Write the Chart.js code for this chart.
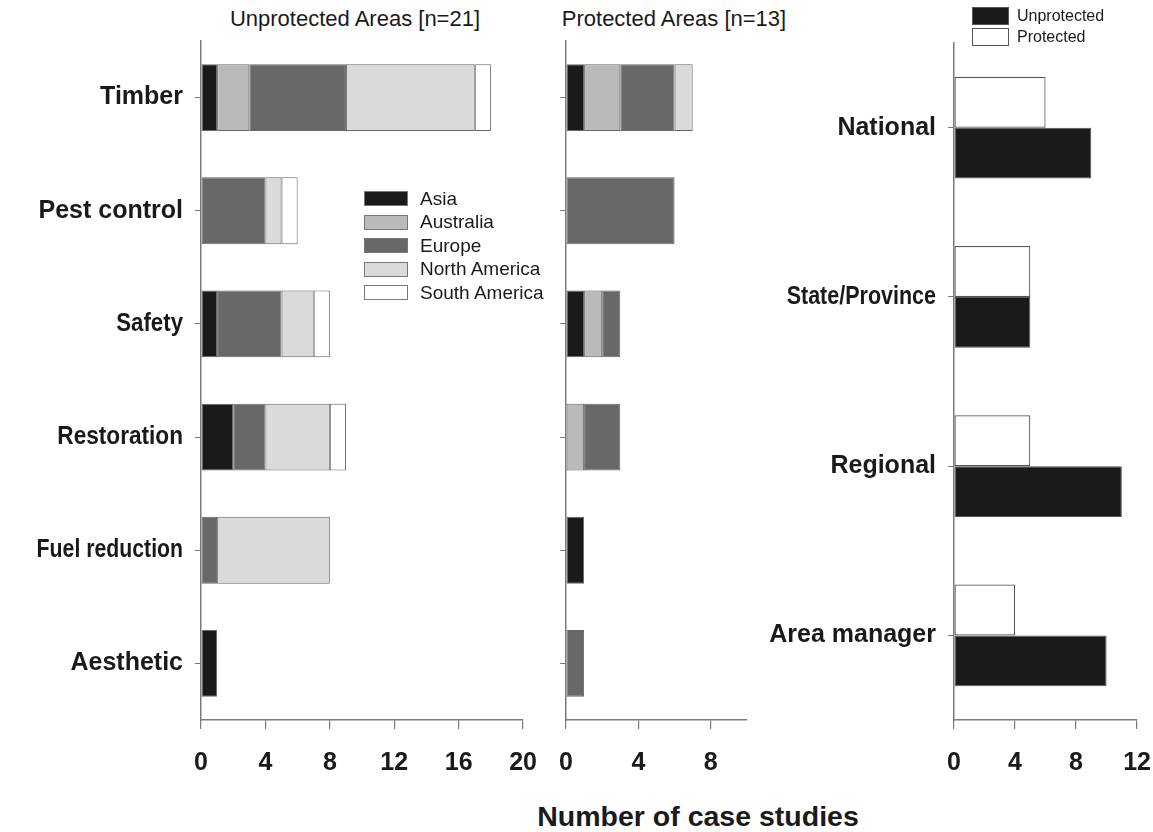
<!DOCTYPE html>
<html lang="en">
<head>
  <meta charset="UTF-8" />
  <title>Number of case studies</title>
  <script src="https://cdn.jsdelivr.net/npm/chart.js"></script>
  <style>
    body { margin: 0; background: #fff; font-family: "Liberation Sans", Arial, sans-serif; color: #1a1a1a; }
    #wrap { position: relative; width: 1153px; height: 832px; overflow: hidden; }
    .box { position: absolute; }
    .title { position: absolute; top: 6px; font-size: 22px; white-space: nowrap; transform: translateX(-50%); }
    .xtitle { position: absolute; left: 698px; top: 800px; transform: translateX(-50%); font-size: 28.5px; font-weight: bold; white-space: nowrap; }
    .leg { position: absolute; font-size: 19px; }
    .leg div { display: flex; align-items: center; height: 23.5px; }
    .leg span.sw { display: inline-block; width: 44px; height: 15px; border: 1px solid #777; margin-right: 12px; box-sizing: border-box; }
    .leg2 { position: absolute; left: 972px; top: 5px; font-size: 16px; }
    .leg2 div { display: flex; align-items: center; height: 21px; }
    .leg2 span.sw { display: inline-block; width: 37px; height: 18px; border: 1px solid #555; margin-right: 8px; box-sizing: border-box; }
  </style>
</head>
<body>
<div id="wrap">
  <div class="title" style="left:355px">Unprotected Areas [n=21]</div>
  <div class="title" style="left:674px">Protected Areas [n=13]</div>
  <div class="box" style="left:0;top:0;width:556px;height:800px"><canvas id="c1"></canvas></div>
  <div class="box" style="left:540px;top:0;width:230px;height:800px"><canvas id="c2"></canvas></div>
  <div class="box" style="left:750px;top:0;width:420px;height:800px"><canvas id="c3"></canvas></div>
  <div class="leg" id="leg1" style="left:364px;top:187px"></div>
  <div class="leg2" id="leg2"></div>
  <div class="xtitle">Number of case studies</div>
</div>
<script>
  const uses = ['Timber', 'Pest control', 'Safety', 'Restoration', 'Fuel reduction', 'Aesthetic'];
  const regions = ['Asia', 'Australia', 'Europe', 'North America', 'South America'];
  const regionColors = ['#1a1a1a', '#bababa', '#686868', '#dadada', '#ffffff'];

  // unprotected areas, one array per region, in the order of uses
  const unAsia = [1, 0, 1, 2, 0, 1];
  const unAustralia = [2, 0, 0, 0, 0, 0];
  const unEurope = [6, 4, 4, 2, 1, 0];
  const unNorthAm = [8, 1, 2, 4, 7, 0];
  const unSouthAm = [1, 1, 1, 1, 0, 0];

  // protected areas
  const prAsia = [1, 0, 1, 0, 1, 0];
  const prAustralia = [2, 0, 1, 1, 0, 0];
  const prEurope = [3, 6, 1, 2, 0, 1];
  const prNorthAm = [1, 0, 0, 0, 0, 0];
  const prSouthAm = [0, 0, 0, 0, 0, 0];

  const levels = ['National', 'State/Province', 'Regional', 'Area manager'];
  const levelProtected = [6, 5, 5, 4];
  const levelUnprotected = [9, 5, 11, 10];

  const ticksLeft = [0, 4, 8, 12, 16, 20];
  const ticksMid = [0, 4, 8];
  const ticksRight = [0, 4, 8, 12];

  const axisGrey = '#7a7a7a';
  const tickFont = { family: 'Liberation Sans', size: 25, weight: 'bold' };
  // some category labels are set condensed in the original
  const useLabelSquash = [1, 1, 0.89, 0.905, 0.85, 1];
  const levelLabelSquash = [1, 0.86, 1, 1];

  // draws the y category labels, squeezed sideways where needed
  const squashLabels = {
    id: 'squashLabels',
    afterDraw(chart, args, opts) {
      if (!opts.squash) return;
      const y = chart.scales.y;
      const ctx = chart.ctx;
      ctx.save();
      ctx.font = 'bold 25px "Liberation Sans"';
      ctx.fillStyle = '#1a1a1a';
      ctx.textAlign = 'right';
      ctx.textBaseline = 'middle';
      chart.data.labels.forEach((lab, i) => {
        ctx.save();
        ctx.translate(y.right - 18, y.getPixelForTick(i));
        ctx.scale(opts.squash[i], 1);
        ctx.fillText(lab, 0, 0);
        ctx.restore();
      });
      ctx.restore();
    }
  };

  function regionSets(arrs) {
    return arrs.map((d, i) => ({
      label: regions[i],
      data: d,
      backgroundColor: regionColors[i],
      borderColor: '#666',
      borderWidth: 1,
      borderSkipped: false,
      barPercentage: 0.59,
      categoryPercentage: 1
    }));
  }

  function xScale(max, ticks) {
    return {
      stacked: true,
      min: 0,
      max: max,
      afterBuildTicks: s => { s.ticks = ticks.map(v => ({ value: v })); },
      afterFit: s => { s.height = 80; },
      grid: { drawOnChartArea: false, color: axisGrey, tickLength: 9, lineWidth: 1.2 },
      border: { color: axisGrey, width: 1.5 },
      ticks: { font: tickFont, color: '#1a1a1a', padding: 19, maxRotation: 0, autoSkip: false }
    };
  }

  function yScale(width) {
    return {
      stacked: true,
      afterFit: s => { s.width = width; },
      grid: { drawOnChartArea: false, offset: false, color: axisGrey, tickLength: 6 },
      border: { color: axisGrey, width: 1.5 },
      ticks: { callback: () => '' }
    };
  }

  function opts(pad, x, y, squash) {
    return {
      indexAxis: 'y',
      responsive: true,
      maintainAspectRatio: false,
      animation: false,
      layout: { padding: pad },
      plugins: { legend: { display: false }, tooltip: { enabled: false }, squashLabels: { squash: squash } },
      scales: { x: x, y: y }
    };
  }

  new Chart(document.getElementById('c1'), {
    type: 'bar',
    data: { labels: uses, datasets: regionSets([unAsia, unAustralia, unEurope, unNorthAm, unSouthAm]) },
    options: opts({ top: 41, right: 0, left: 0, bottom: 0 }, xScale(20, ticksLeft), yScale(201), useLabelSquash),
    plugins: [squashLabels]
  });

  new Chart(document.getElementById('c2'), {
    type: 'bar',
    data: { labels: uses, datasets: regionSets([prAsia, prAustralia, prEurope, prNorthAm, prSouthAm]) },
    options: opts({ top: 41, right: 23, left: 0, bottom: 0 }, xScale(10, ticksMid), yScale(26), null),
    plugins: [squashLabels]
  });

  const r = xScale(12, ticksRight);
  r.stacked = false;
  const ry = yScale(204);
  ry.stacked = false;
  new Chart(document.getElementById('c3'), {
    type: 'bar',
    data: {
      labels: levels,
      datasets: [
        { label: 'Protected', data: levelProtected, backgroundColor: '#ffffff', borderColor: '#555', borderWidth: 1.2, borderSkipped: false, barPercentage: 1, categoryPercentage: 0.6 },
        { label: 'Unprotected', data: levelUnprotected, backgroundColor: '#1a1a1a', borderColor: '#555', borderWidth: 1, borderSkipped: false, barPercentage: 1, categoryPercentage: 0.6 }
      ]
    },
    options: opts({ top: 43, right: 0, left: 0, bottom: 0 }, r, ry, levelLabelSquash),
    plugins: [squashLabels]
  });

  // legends
  document.getElementById('leg1').innerHTML = regions.map((n, i) =>
    '<div><span class="sw" style="background:' + regionColors[i] + '"></span>' + n + '</div>').join('');
  document.getElementById('leg2').innerHTML =
    '<div><span class="sw" style="background:#1a1a1a"></span>Unprotected</div>' +
    '<div><span class="sw" style="background:#fff"></span>Protected</div>';
</script>
</body>
</html>
